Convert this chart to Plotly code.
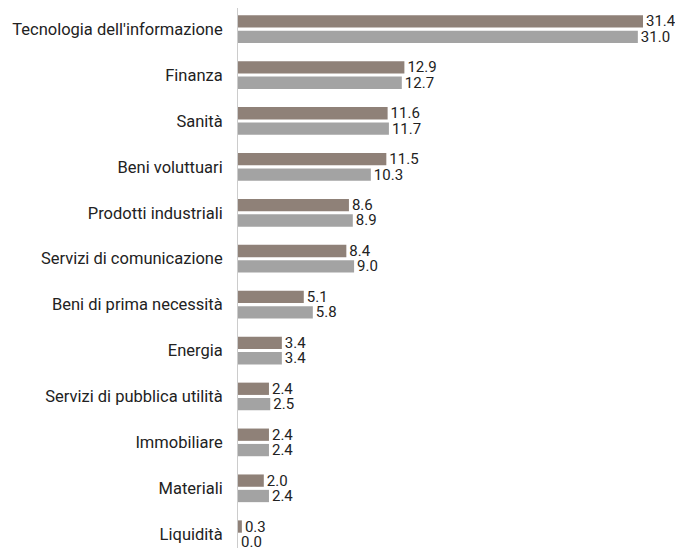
import plotly.graph_objects as go

categories = ["Tecnologia dell'informazione", "Finanza", "Sanità", "Beni voluttuari",
              "Prodotti industriali", "Servizi di comunicazione", "Beni di prima necessità",
              "Energia", "Servizi di pubblica utilità", "Immobiliare", "Materiali", "Liquidità"]
series_a = [31.4, 12.9, 11.6, 11.5, 8.6, 8.4, 5.1, 3.4, 2.4, 2.4, 2.0, 0.3]
series_b = [31.0, 12.7, 11.7, 10.3, 8.9, 9.0, 5.8, 3.4, 2.5, 2.4, 2.4, 0.0]

FONT = "Roboto, sans-serif"

fig = go.Figure()
for vals, color in [(series_a, "#8F8178"), (series_b, "#A3A3A3")]:
    fig.add_trace(go.Bar(
        y=categories, x=vals, orientation="h",
        marker=dict(color=color, line=dict(width=0)),
        text=[f"{v:.1f}" for v in vals], textposition="outside",
        constraintext="none",
        textfont=dict(family=FONT, size=15, color="#222222"),
        cliponaxis=False, showlegend=False,
    ))

fig.update_layout(
    width=675, height=540,
    margin=dict(l=230, r=12, t=0, b=0),
    barmode="group", bargap=0.33, bargroupgap=0.2,
    plot_bgcolor="white", paper_bgcolor="white",
    font=dict(family=FONT, size=16.5, color="#222222"),
    xaxis=dict(range=[0, 33.57], showgrid=False, zeroline=False, showticklabels=False,
               showline=False),
    yaxis=dict(categoryorder="array", categoryarray=categories,
               range=[11.30, -0.46], showgrid=False, zeroline=False,
               showline=True, linecolor="#CCCCCC", linewidth=1,
               ticks="", ticklabelstandoff=11,
               tickfont=dict(family=FONT, size=16.5, color="#222222")),
)

fig.write_html("out.html")
